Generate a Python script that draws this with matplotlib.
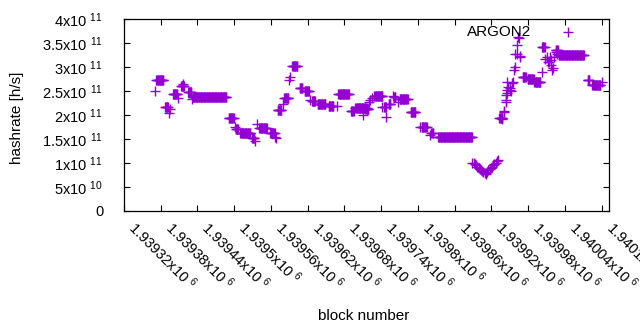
import numpy as np
import matplotlib
matplotlib.use('Agg')
import matplotlib.pyplot as plt
import matplotlib.transforms as mtransforms

plt.rcParams['font.family'] = ['Liberation Sans', 'DejaVu Sans']
plt.rcParams['mathtext.default'] = 'regular'

# runs of blocks sharing the same hashrate (first block, last block, rate in 1e11 h/s)
seg_first = [1939370, 1939373, 1939387, 1939394, 1939395, 1939400, 1939408, 1939413, 1939416,
             1939425, 1939431, 1939432, 1939491, 1939501, 1939503, 1939510, 1939529, 1939534,
             1939537, 1939541, 1939559, 1939567, 1939569, 1939571, 1939580, 1939582, 1939589,
             1939591, 1939595, 1939607, 1939615, 1939623, 1939627, 1939636, 1939654, 1939668,
             1939670, 1939690, 1939692, 1939698, 1939711, 1939714, 1939720, 1939722, 1939725,
             1939729, 1939742, 1939745, 1939748, 1939752, 1939760, 1939761, 1939768, 1939770,
             1939788, 1939803, 1939806, 1939820, 1939822, 1939833,
             1939889, 1939891, 1939893, 1939895, 1939897, 1939899, 1939901, 1939903, 1939905,
             1939907, 1939909, 1939911, 1939913, 1939915, 1939917, 1939919, 1939921, 1939923,
             1939925, 1939927, 1939929, 1939931,
             1939933, 1939937, 1939940, 1939941, 1939943, 1939943, 1939944, 1939945, 1939946,
             1939946, 1939947, 1939950, 1939951, 1939952, 1939954, 1939955, 1939957, 1939958,
             1939959, 1939961, 1939962, 1939964, 1939965, 1939966, 1939967,
             1939971, 1939979, 1939990, 1940002, 1940003,
             1940007, 1940011, 1940012, 1940014, 1940015, 1940017, 1940018, 1940019, 1940020,
             1940022, 1940025, 1940027, 1940030, 1940025,
             1940031, 1940045, 1940077, 1940085, 1940098, 1940101]
seg_last = [1939370, 1939384, 1939392, 1939394, 1939395, 1939407, 1939408, 1939418, 1939416,
            1939430, 1939431, 1939487, 1939499, 1939501, 1939506, 1939526, 1939533, 1939534,
            1939537, 1939553, 1939566, 1939567, 1939569, 1939577, 1939580, 1939588, 1939589,
            1939591, 1939603, 1939611, 1939622, 1939623, 1939632, 1939649, 1939662, 1939668,
            1939687, 1939690, 1939695, 1939716, 1939711, 1939719, 1939720, 1939722, 1939725,
            1939742, 1939742, 1939748, 1939748, 1939755, 1939760, 1939763, 1939768, 1939783,
            1939796, 1939803, 1939814, 1939820, 1939825, 1939888,
            1939889, 1939891, 1939893, 1939895, 1939897, 1939899, 1939901, 1939903, 1939905,
            1939907, 1939909, 1939911, 1939913, 1939915, 1939917, 1939919, 1939921, 1939923,
            1939925, 1939927, 1939929, 1939931,
            1939938, 1939937, 1939940, 1939941, 1939943, 1939943, 1939944, 1939945, 1939946,
            1939946, 1939947, 1939950, 1939951, 1939952, 1939954, 1939955, 1939957, 1939958,
            1939959, 1939961, 1939962, 1939964, 1939965, 1939966, 1939967,
            1939976, 1939989, 1940000, 1940002, 1940007,
            1940007, 1940011, 1940012, 1940014, 1940015, 1940017, 1940018, 1940019, 1940020,
            1940022, 1940025, 1940027, 1940030, 1940028,
            1940071, 1940045, 1940080, 1940097, 1940098, 1940101]
seg_rate = [2.51, 2.72, 2.16, 2.04, 2.12, 2.44, 2.36, 2.60, 2.65,
            2.47, 2.33, 2.37, 1.93, 1.74, 1.70, 1.62, 1.53, 1.45,
            1.81, 1.73, 1.62, 1.55, 1.53, 2.10, 2.22, 2.35, 2.73,
            2.80, 3.03, 2.57, 2.51, 2.31, 2.30, 2.22, 2.18, 2.19,
            2.43, 2.08, 2.08, 2.14, 2.00, 2.12, 2.28, 2.31, 2.35,
            2.39, 2.17, 2.17, 1.95, 2.22, 2.40, 2.38, 2.28, 2.34,
            2.06, 1.74, 1.76, 1.58, 1.62, 1.54,
            1.01, 1.00, 0.97, 0.95, 0.92, 0.90, 0.88, 0.86, 0.84,
            0.82, 0.79, 0.78, 0.81, 0.85, 0.88, 0.90, 0.92, 0.95,
            0.98, 1.01, 1.04, 1.07,
            1.94, 1.91, 2.07, 2.09, 2.28, 2.31, 2.42, 2.46, 2.53,
            2.69, 2.59, 2.56, 2.52, 2.49, 2.66, 2.69, 2.94, 3.01,
            3.28, 3.28, 3.46, 3.63, 3.60, 3.23, 3.20,
            2.79, 2.74, 2.69, 2.90, 3.41,
            3.16, 3.21, 3.11, 3.11, 3.20, 3.04, 3.15, 2.94, 2.97,
            3.21, 3.32, 3.28, 3.25, 3.35,
            3.25, 3.72, 2.72, 2.62, 2.62, 2.69]

xticks = [1939320, 1939380, 1939440, 1939500, 1939560, 1939620, 1939680,
          1939740, 1939800, 1939860, 1939920, 1939980, 1940040, 1940100]
xtick_labels = ['1.93932x10 $^{6}$', '1.93938x10 $^{6}$', '1.93944x10 $^{6}$', '1.9395x10 $^{6}$',
                '1.93956x10 $^{6}$', '1.93962x10 $^{6}$', '1.93968x10 $^{6}$', '1.93974x10 $^{6}$',
                '1.9398x10 $^{6}$', '1.93986x10 $^{6}$', '1.93992x10 $^{6}$', '1.93998x10 $^{6}$',
                '1.94004x10 $^{6}$', '1.9401x10 $^{6}$']
yticks = [0, 0.5e11, 1e11, 1.5e11, 2e11, 2.5e11, 3e11, 3.5e11, 4e11]
ytick_labels = ['0', '5x10 $^{10}$', '1x10 $^{11}$', '1.5x10 $^{11}$', '2x10 $^{11}$',
                '2.5x10 $^{11}$', '3x10 $^{11}$', '3.5x10 $^{11}$', '4x10 $^{11}$']

blocks = np.concatenate([np.arange(a, b + 1) for a, b in zip(seg_first, seg_last)])
rates = np.concatenate([np.full(b - a + 1, r * 1e11) for a, b, r in zip(seg_first, seg_last, seg_rate)])

fig = plt.figure(figsize=(6.4, 3.3), dpi=100)
ax = fig.add_axes([124 / 640, 1 - 211 / 330, 485 / 640, 192 / 330])

ax.plot(blocks, rates, '+', color='#9400d3', ms=7, mew=1.0, ls='none')

ax.set_xlim(1939320, 1940112)
ax.set_ylim(0, 4e11)
ax.set_xticks(xticks)
ax.set_xticklabels(xtick_labels, rotation=-45, ha='left', va='baseline',
                   rotation_mode='anchor', fontsize=10.5)
ax.set_yticks(yticks)
ax.set_yticklabels(ytick_labels, fontsize=10.5)
ax.tick_params(direction='in', top=True, right=True, length=4, width=0.8)
ax.tick_params(axis='x', pad=13)
ax.tick_params(axis='y', pad=15)
shift = mtransforms.ScaledTranslation(3 / 100, 0, fig.dpi_scale_trans)
for lab in ax.get_xticklabels():
    lab.set_transform(lab.get_transform() + shift)
for s in ax.spines.values():
    s.set_linewidth(0.9)

ax.set_xlabel('block number', fontsize=11, va='center')
ax.xaxis.set_label_coords(0.495, -0.547)
ax.set_ylabel('hashrate [h/s]', fontsize=11, va='center')
ax.yaxis.set_label_coords(-0.2206, 0.484)

ax.text(0.840, 0.934, 'ARGON2', ha='right', va='center', fontsize=11, transform=ax.transAxes)

fig.savefig('out.png', dpi=100)
